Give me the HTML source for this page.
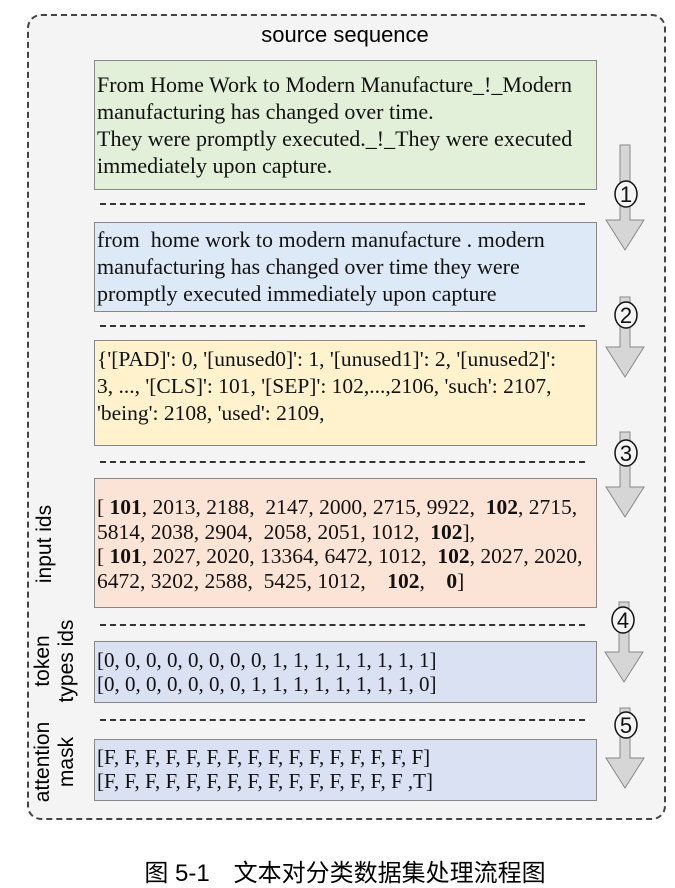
<!DOCTYPE html>
<html><head><meta charset="utf-8"><style>
body{margin:0;width:675px;height:873px;background:#fff;position:relative;overflow:hidden;font-family:"Liberation Serif",serif;}
.abs{position:absolute;}
.outer{left:27px;top:14px;width:635px;height:802px;border:2px dashed #444;border-radius:14px;background:#f4f4f4;}
.box{position:absolute;left:94px;width:503px;border:1.5px solid #888;box-sizing:border-box;padding:2px 2px;font-size:22px;line-height:27px;color:#111;white-space:nowrap;}
.dash{position:absolute;left:100px;width:485px;border-top:2px dashed #333;}
.lab{position:absolute;font-family:"Liberation Sans",sans-serif;font-size:21px;transform:rotate(-90deg);transform-origin:center;text-align:center;line-height:24px;white-space:nowrap;}
</style></head><body>
<div class="abs outer"></div>
<div class="abs" style="left:0;width:690px;top:22px;text-align:center;font-family:'Liberation Sans',sans-serif;font-size:22px;">source sequence</div>
<div class="box" style="top:60px;height:130px;background:#e2efd9;padding-top:10px">From Home Work to Modern Manufacture_!_Modern<br>manufacturing has changed over time.<br>They were promptly executed._!_They were executed<br>immediately upon capture.</div>
<div class="dash" style="top:203px"></div>
<div class="box" style="top:222px;height:90px;background:#dde9f6;padding-top:3px">from&nbsp; home work to modern manufacture . modern<br>manufacturing has changed over time they were<br>promptly executed immediately upon capture</div>
<div class="dash" style="top:325px"></div>
<div class="box" style="top:340px;height:106px;background:#fff2cc;padding-top:5px;font-size:21.5px">{'[PAD]': 0, '[unused0]': 1, '[unused1]': 2, '[unused2]':<br>3, ..., '[CLS]': 101, '[SEP]': 102,...,2106, 'such': 2107,<br>'being': 2108, 'used': 2109,</div>
<div class="dash" style="top:461px"></div>
<div class="box" style="top:478px;height:130px;background:#fbe4d5;padding-top:16px;line-height:24.5px;font-size:21.5px">[ <b>101</b>, 2013, 2188, &nbsp;2147, 2000, 2715, 9922, &nbsp;<b>102</b>, 2715,<br>5814, 2038, 2904, &nbsp;2058, 2051, 1012, &nbsp;<b>102</b>],<br>[ <b>101</b>, 2027, 2020, 13364, 6472, 1012, &nbsp;<b>102</b>, 2027, 2020,<br>6472, 3202, 2588, &nbsp;5425, 1012, &nbsp;&nbsp;&nbsp;<b>102</b>, &nbsp;&nbsp;&nbsp;<b>0</b>]</div>
<div class="dash" style="top:624px"></div>
<div class="box" style="top:641px;height:62px;background:#d9e1f3;padding-top:6px;line-height:24px;font-size:21px">[0, 0, 0, 0, 0, 0, 0, 0, 1, 1, 1, 1, 1, 1, 1, 1]<br>[0, 0, 0, 0, 0, 0, 0, 1, 1, 1, 1, 1, 1, 1, 1, 0]</div>
<div class="dash" style="top:719px"></div>
<div class="box" style="top:739px;height:62px;background:#d9e1f3;padding-top:5px;line-height:24px;font-size:21px">[F, F, F, F, F, F, F, F, F, F, F, F, F, F, F, F]<br>[F, F, F, F, F, F, F, F, F, F, F, F, F, F, F ,T]</div>
<div class="lab" style="left:-5px;top:532px;width:100px;">input ids</div>
<div class="lab" style="left:-10px;top:637px;width:130px;">token<br>types ids</div>
<div class="lab" style="left:-10px;top:738px;width:130px;">attention<br>mask</div>
<svg class="abs" style="left:0;top:0" width="675" height="873">
<g fill="#d6d6d6" stroke="#888" stroke-width="1">
<path d="M620 145h10v75h14l-19 30l-19-30h14z"/>
<path d="M620 297h10v50h14l-19 30l-19-30h14z"/>
<path d="M620 432h10v55h14l-19 30l-19-30h14z"/>
<path d="M619 602h10v50h14l-19 30l-19-30h14z"/>
<path d="M620 708h10v50h14l-19 30l-19-30h14z"/>
</g>
<g fill="#f4f4f4" stroke="#111" stroke-width="1.5">
<ellipse cx="626" cy="194" rx="11" ry="13"/><ellipse cx="626" cy="315" rx="11" ry="13"/><ellipse cx="626" cy="453" rx="11" ry="13"/><ellipse cx="623" cy="620" rx="11" ry="13"/><ellipse cx="626" cy="725" rx="11" ry="13"/>
</g>
<g font-family="Liberation Sans,sans-serif" font-size="22" text-anchor="middle" fill="#111">
<text x="626" y="202">1</text><text x="626" y="323">2</text><text x="626" y="461">3</text><text x="623" y="628">4</text><text x="626" y="733">5</text>
</g>
</svg>
<div class="abs" style="left:0;width:690px;top:853px;text-align:center;font-family:'Liberation Sans','Noto Sans CJK SC',sans-serif;font-size:24px;">图 5-1　文本对分类数据集处理流程图</div>
</body></html>
